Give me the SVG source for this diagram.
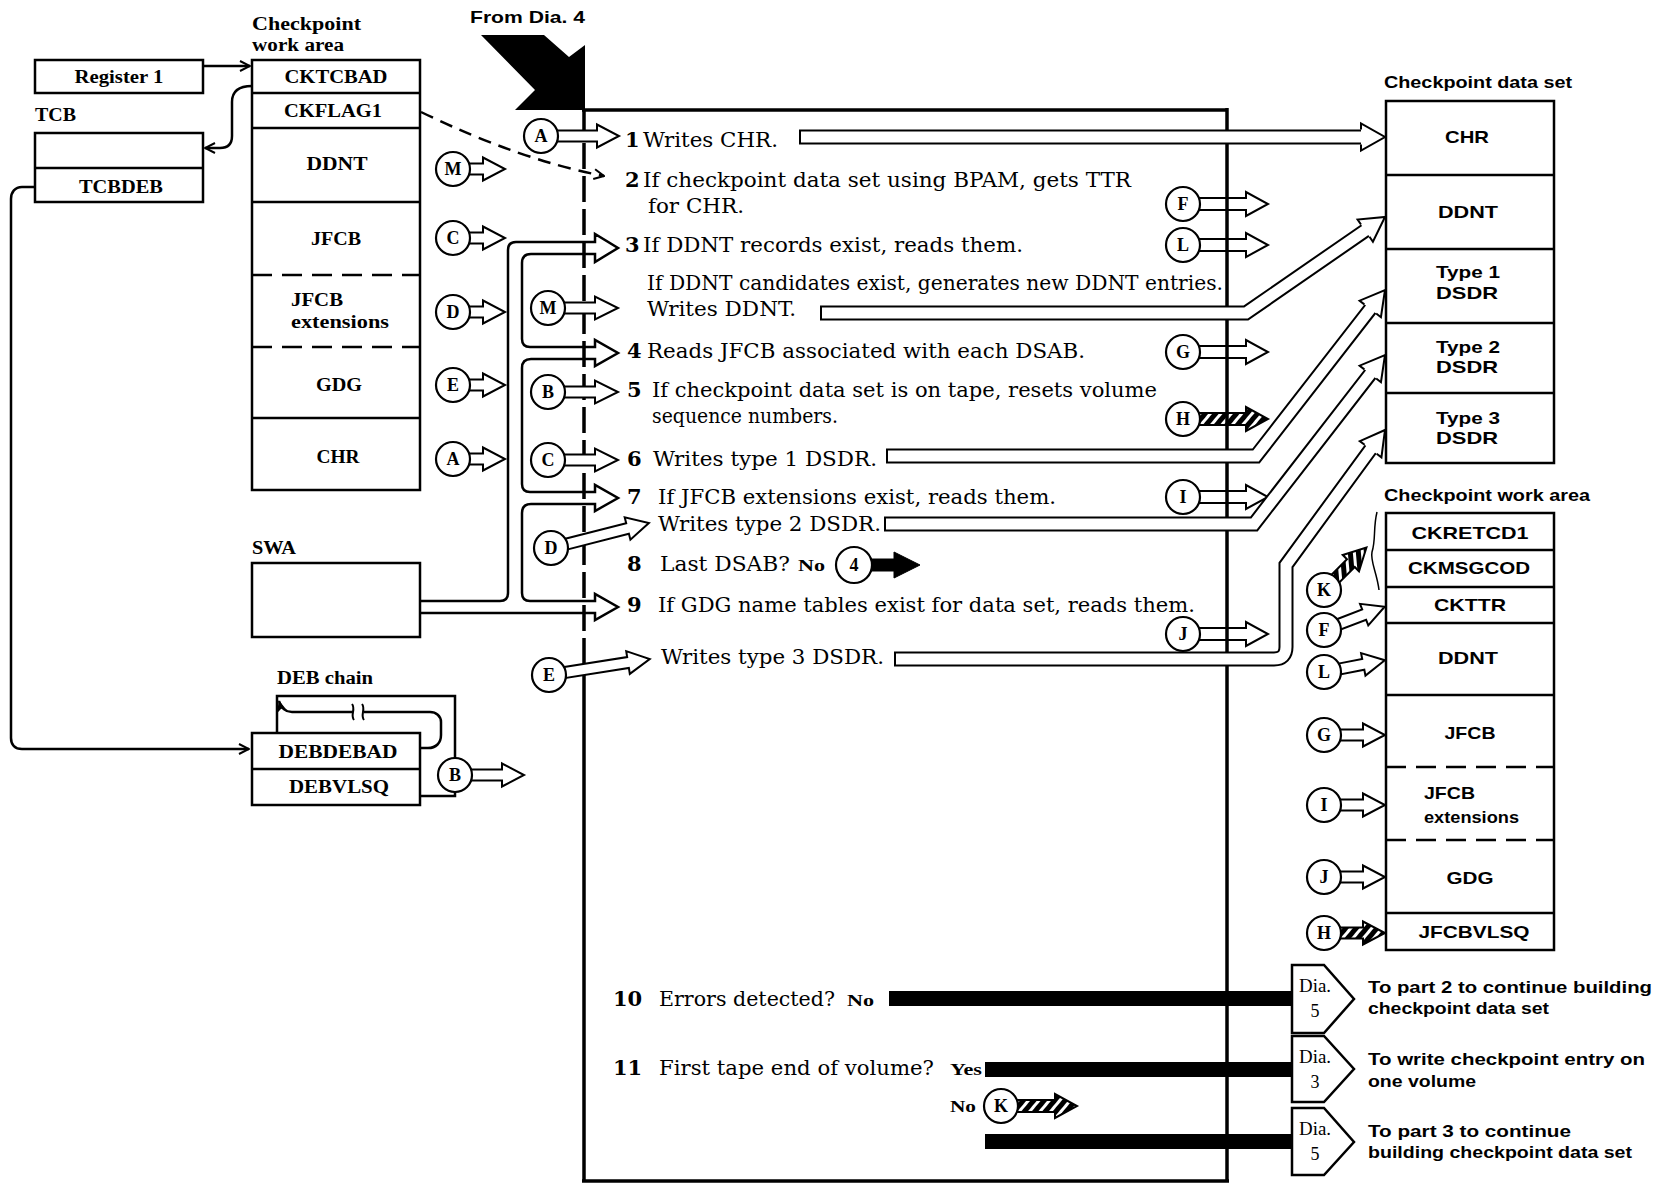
<svg xmlns="http://www.w3.org/2000/svg" width="1664" height="1187" viewBox="0 0 1664 1187">
<defs>
<style>
.bx{fill:#fff;stroke:#000;stroke-width:2.5}
.ln{fill:none;stroke:#000;stroke-width:2.5}
.dv{fill:none;stroke:#000;stroke-width:2.5;stroke-dasharray:20 10}
.dl{fill:none;stroke:#000;stroke-width:2.5;stroke-dasharray:13 8}
.mb{fill:none;stroke:#000;stroke-width:3.5}
.md{fill:none;stroke:#000;stroke-width:3.5;stroke-dasharray:26 7}
.ha{fill:#fff;stroke:#000;stroke-width:2;stroke-linejoin:miter}
.hh{fill:url(#hatch);stroke:#000;stroke-width:2;stroke-linejoin:miter}
.hb{fill:#000;stroke:#000;stroke-width:1}
.cn{fill:#fff;stroke:#000;stroke-width:2.2}
.cl{font-family:"Liberation Serif",serif;font-weight:bold;font-size:18px;text-anchor:middle}
.lb{font-family:"Liberation Serif",serif;font-weight:bold;font-size:18px}
.lc{font-family:"Liberation Serif",serif;font-weight:bold;font-size:18px;text-anchor:middle}
.mt{font-family:"DejaVu Serif",serif;font-size:21px}
.mn{font-family:"DejaVu Serif",serif;font-size:21px;font-weight:bold}
.sm{font-family:"Liberation Serif",serif;font-size:17px;font-weight:bold}
.rs{font-family:"Liberation Sans",sans-serif;font-weight:bold;font-size:17px}
.rc{font-family:"Liberation Sans",sans-serif;font-weight:bold;font-size:17px;text-anchor:middle}
.dt{font-family:"Liberation Serif",serif;font-size:18px}
.pb{fill:none;stroke:#000;stroke-width:15;stroke-linejoin:miter}
.pw{fill:none;stroke:#fff;stroke-width:11;stroke-linejoin:miter}
</style>
<pattern id="hatch" width="8" height="8" patternUnits="userSpaceOnUse" patternTransform="rotate(40)"><rect width="8" height="8" fill="#000"/><rect width="3" height="8" fill="#fff"/></pattern>
<polyline id="bh" points="-24,-7.5 -24,-13.5 0,0 -24,13.5 -24,7.5" fill="#fff" stroke="#000" stroke-width="2"/>
<marker id="ov" viewBox="0 0 12 12" markerWidth="12" markerHeight="12" refX="11" refY="6" orient="auto" markerUnits="userSpaceOnUse"><path d="M1,1 L11,6 L1,11" fill="none" stroke="#000" stroke-width="2"/></marker>
<marker id="fv" viewBox="0 0 12 12" markerWidth="12" markerHeight="12" refX="11" refY="6" orient="auto" markerUnits="userSpaceOnUse"><path d="M0,1 L12,6 L0,11 L3,6 z" fill="#000"/></marker>
</defs>
<rect width="1664" height="1187" fill="#fff"/>

<!-- left nodes -->
<g id="register1">
<rect class="bx" x="35" y="60" width="168" height="33"/>
<text class="lc" x="119" y="83" textLength="89" lengthAdjust="spacingAndGlyphs">Register 1</text>
</g>
<g id="tcb">
<text class="lb" x="35" y="121" textLength="41" lengthAdjust="spacingAndGlyphs">TCB</text>
<rect class="bx" x="35" y="133" width="168" height="69"/>
<line class="ln" x1="35" y1="168" x2="203" y2="168"/>
<text class="lc" x="121" y="193" textLength="84" lengthAdjust="spacingAndGlyphs">TCBDEB</text>
</g>
<g id="checkpoint-work-area-left">
<text class="lb" x="252" y="30" textLength="109" lengthAdjust="spacingAndGlyphs">Checkpoint</text>
<text class="lb" x="252" y="51" textLength="92" lengthAdjust="spacingAndGlyphs">work area</text>
<rect class="bx" x="252" y="60" width="168" height="430"/>
<line class="ln" x1="252" y1="93" x2="420" y2="93"/>
<line class="ln" x1="252" y1="128" x2="420" y2="128"/>
<line class="ln" x1="252" y1="202" x2="420" y2="202"/>
<line class="dv" x1="252" y1="275" x2="420" y2="275"/>
<line class="dv" x1="252" y1="347" x2="420" y2="347"/>
<line class="ln" x1="252" y1="418" x2="420" y2="418"/>
<text class="lc" x="336" y="83" textLength="103" lengthAdjust="spacingAndGlyphs">CKTCBAD</text>
<text class="lc" x="333" y="117" textLength="98" lengthAdjust="spacingAndGlyphs">CKFLAG1</text>
<text class="lc" x="337" y="170" textLength="61" lengthAdjust="spacingAndGlyphs">DDNT</text>
<text class="lc" x="336" y="245" textLength="50" lengthAdjust="spacingAndGlyphs">JFCB</text>
<text class="lb" x="291" y="306" textLength="52" lengthAdjust="spacingAndGlyphs">JFCB</text>
<text class="lb" x="291" y="328" textLength="98" lengthAdjust="spacingAndGlyphs">extensions</text>
<text class="lc" x="339" y="391" textLength="46" lengthAdjust="spacingAndGlyphs">GDG</text>
<text class="lc" x="338" y="463" textLength="43" lengthAdjust="spacingAndGlyphs">CHR</text>
</g>
<g id="swa">
<text class="lb" x="252" y="554" textLength="44" lengthAdjust="spacingAndGlyphs">SWA</text>
<rect class="bx" x="252" y="563" width="168" height="74"/>
</g>
<g id="deb-chain">
<text class="lb" x="277" y="684" textLength="96" lengthAdjust="spacingAndGlyphs">DEB chain</text>
<rect class="bx" x="252" y="733" width="168" height="72"/>
<line class="ln" x1="252" y1="769" x2="420" y2="769"/>
<text class="lc" x="338" y="758" textLength="119" lengthAdjust="spacingAndGlyphs">DEBDEBAD</text>
<text class="lc" x="339" y="793" textLength="100" lengthAdjust="spacingAndGlyphs">DEBVLSQ</text>
</g>

<!-- right nodes -->
<g id="checkpoint-data-set">
<text class="rs" x="1384" y="88" textLength="188" lengthAdjust="spacingAndGlyphs">Checkpoint data set</text>
<rect class="bx" x="1386" y="101" width="168" height="362"/>
<line class="ln" x1="1386" y1="175" x2="1554" y2="175"/>
<line class="ln" x1="1386" y1="249" x2="1554" y2="249"/>
<line class="ln" x1="1386" y1="323" x2="1554" y2="323"/>
<line class="ln" x1="1386" y1="393" x2="1554" y2="393"/>
<text class="rc" x="1467" y="143" textLength="44" lengthAdjust="spacingAndGlyphs">CHR</text>
<text class="rc" x="1468" y="218" textLength="60" lengthAdjust="spacingAndGlyphs">DDNT</text>
<text class="rc" x="1468" y="278" textLength="64" lengthAdjust="spacingAndGlyphs">Type 1</text>
<text class="rc" x="1467" y="299" textLength="62" lengthAdjust="spacingAndGlyphs">DSDR</text>
<text class="rc" x="1468" y="353" textLength="64" lengthAdjust="spacingAndGlyphs">Type 2</text>
<text class="rc" x="1467" y="373" textLength="62" lengthAdjust="spacingAndGlyphs">DSDR</text>
<text class="rc" x="1468" y="424" textLength="64" lengthAdjust="spacingAndGlyphs">Type 3</text>
<text class="rc" x="1467" y="444" textLength="62" lengthAdjust="spacingAndGlyphs">DSDR</text>
</g>
<g id="checkpoint-work-area-right">
<text class="rs" x="1384" y="501" textLength="206" lengthAdjust="spacingAndGlyphs">Checkpoint work area</text>
<rect class="bx" x="1386" y="513" width="168" height="437"/>
<line class="ln" x1="1386" y1="550" x2="1554" y2="550"/>
<line class="ln" x1="1386" y1="587" x2="1554" y2="587"/>
<line class="ln" x1="1386" y1="623" x2="1554" y2="623"/>
<line class="ln" x1="1386" y1="695" x2="1554" y2="695"/>
<line class="dv" x1="1386" y1="767" x2="1554" y2="767"/>
<line class="dv" x1="1386" y1="840" x2="1554" y2="840"/>
<line class="ln" x1="1386" y1="913" x2="1554" y2="913"/>
<text class="rc" x="1470" y="539" textLength="117" lengthAdjust="spacingAndGlyphs">CKRETCD1</text>
<text class="rc" x="1469" y="574" textLength="122" lengthAdjust="spacingAndGlyphs">CKMSGCOD</text>
<text class="rc" x="1470" y="611" textLength="72" lengthAdjust="spacingAndGlyphs">CKTTR</text>
<text class="rc" x="1468" y="664" textLength="60" lengthAdjust="spacingAndGlyphs">DDNT</text>
<text class="rc" x="1470" y="739" textLength="51" lengthAdjust="spacingAndGlyphs">JFCB</text>
<text class="rs" x="1424" y="799" textLength="51" lengthAdjust="spacingAndGlyphs">JFCB</text>
<text class="rs" x="1424" y="823" textLength="95" lengthAdjust="spacingAndGlyphs">extensions</text>
<text class="rc" x="1470" y="884" textLength="47" lengthAdjust="spacingAndGlyphs">GDG</text>
<text class="rc" x="1474" y="938" textLength="111" lengthAdjust="spacingAndGlyphs">JFCBVLSQ</text>
<path class="ln" style="stroke-width:1.5" d="M1377,512 C1373,528 1376,540 1372,552 C1370,561 1377,573 1379,590"/>
</g>

<!-- off-page connectors -->
<g id="dia-5a">
<polygon class="bx" points="1292,965 1324,965 1354,999 1324,1033 1292,1033"/>
<text class="dt" x="1299" y="992" textLength="32" lengthAdjust="spacingAndGlyphs">Dia.</text>
<text class="dt" x="1315" y="1017" text-anchor="middle">5</text>
<text class="rs" x="1368" y="993" textLength="284" lengthAdjust="spacingAndGlyphs">To part 2 to continue building</text>
<text class="rs" x="1368" y="1014" textLength="181" lengthAdjust="spacingAndGlyphs">checkpoint data set</text>
</g>
<g id="dia-3">
<polygon class="bx" points="1292,1036 1324,1036 1354,1069 1324,1102 1292,1102"/>
<text class="dt" x="1299" y="1063" textLength="32" lengthAdjust="spacingAndGlyphs">Dia.</text>
<text class="dt" x="1315" y="1088" text-anchor="middle">3</text>
<text class="rs" x="1368" y="1065" textLength="277" lengthAdjust="spacingAndGlyphs">To write checkpoint entry on</text>
<text class="rs" x="1368" y="1087" textLength="108" lengthAdjust="spacingAndGlyphs">one volume</text>
</g>
<g id="dia-5b">
<polygon class="bx" points="1292,1108 1324,1108 1354,1142 1324,1175 1292,1175"/>
<text class="dt" x="1299" y="1135" textLength="32" lengthAdjust="spacingAndGlyphs">Dia.</text>
<text class="dt" x="1315" y="1160" text-anchor="middle">5</text>
<text class="rs" x="1368" y="1137" textLength="203" lengthAdjust="spacingAndGlyphs">To part 3 to continue</text>
<text class="rs" x="1368" y="1158" textLength="264" lengthAdjust="spacingAndGlyphs">building checkpoint data set</text>
</g>

<!-- main process box -->
<g id="process">
<line class="md" x1="584" y1="110" x2="584" y2="655"/>
<line class="mb" x1="584" y1="655" x2="584" y2="1181"/>
<text class="rs" x="470" y="23" textLength="115" lengthAdjust="spacingAndGlyphs">From Dia. 4</text>
<text class="mn" x="625" y="147">1</text>
<text class="mt" x="643" y="147" textLength="135" lengthAdjust="spacingAndGlyphs">Writes CHR.</text>
<text class="mn" x="625" y="187">2</text>
<text class="mt" x="643" y="187" textLength="488" lengthAdjust="spacingAndGlyphs">If checkpoint data set using BPAM, gets TTR</text>
<text class="mt" x="648" y="213" textLength="96" lengthAdjust="spacingAndGlyphs">for CHR.</text>
<text class="mn" x="625" y="252">3</text>
<text class="mt" x="643" y="252" textLength="380" lengthAdjust="spacingAndGlyphs">If DDNT records exist, reads them.</text>
<text class="mt" x="647" y="290" textLength="576" lengthAdjust="spacingAndGlyphs">If DDNT candidates exist, generates new DDNT entries.</text>
<text class="mt" x="647" y="316" textLength="149" lengthAdjust="spacingAndGlyphs">Writes DDNT.</text>
<text class="mn" x="627" y="358">4</text>
<text class="mt" x="647" y="358" textLength="438" lengthAdjust="spacingAndGlyphs">Reads JFCB associated with each DSAB.</text>
<text class="mn" x="627" y="397">5</text>
<text class="mt" x="652" y="397" textLength="505" lengthAdjust="spacingAndGlyphs">If checkpoint data set is on tape, resets volume</text>
<text class="mt" x="652" y="423" textLength="186" lengthAdjust="spacingAndGlyphs">sequence numbers.</text>
<text class="mn" x="627" y="466">6</text>
<text class="mt" x="653" y="466" textLength="224" lengthAdjust="spacingAndGlyphs">Writes type 1 DSDR.</text>
<text class="mn" x="627" y="504">7</text>
<text class="mt" x="658" y="504" textLength="398" lengthAdjust="spacingAndGlyphs">If JFCB extensions exist, reads them.</text>
<text class="mt" x="658" y="531" textLength="223" lengthAdjust="spacingAndGlyphs">Writes type 2 DSDR.</text>
<text class="mn" x="627" y="571">8</text>
<text class="mt" x="660" y="571" textLength="130" lengthAdjust="spacingAndGlyphs">Last DSAB?</text>
<text class="sm" x="798" y="571" textLength="27" lengthAdjust="spacingAndGlyphs">No</text>
<text class="mn" x="627" y="612">9</text>
<text class="mt" x="658" y="612" textLength="537" lengthAdjust="spacingAndGlyphs">If GDG name tables exist for data set, reads them.</text>
<text class="mt" x="661" y="664" textLength="223" lengthAdjust="spacingAndGlyphs">Writes type 3 DSDR.</text>
<text class="mn" x="613" y="1006">10</text>
<text class="mt" x="659" y="1006" textLength="176" lengthAdjust="spacingAndGlyphs">Errors detected?</text>
<text class="sm" x="847" y="1006" textLength="27" lengthAdjust="spacingAndGlyphs">No</text>
<text class="mn" x="613" y="1075">11</text>
<text class="mt" x="659" y="1075" textLength="275" lengthAdjust="spacingAndGlyphs">First tape end of volume?</text>
<text class="sm" x="950" y="1075" textLength="32" lengthAdjust="spacingAndGlyphs">Yes</text>
<text class="sm" x="950" y="1112" textLength="26" lengthAdjust="spacingAndGlyphs">No</text>
</g>

<!-- connectors -->
<g id="connectors">
<path class="ln" d="M203,66 L250,66" marker-end="url(#ov)"/>
<path class="ln" d="M252,86 C238,86 232,92 232,102 L232,136 C232,144 228,148 220,148 L205,148" marker-end="url(#ov)"/>
<path class="ln" d="M35,187 L22,187 C15,187 11,192 11,199 L11,738 C11,745 15,749 22,749 L249,749" marker-end="url(#ov)"/>
<path class="dl" d="M421,112 Q520,160 604,176" marker-end="url(#ov)"/>
<path class="ln" d="M277,733 L277,696 L455,696 L455,758"/>
<path class="ln" d="M455,792 L455,796 L420,796"/>
<path class="ln" d="M420,748 L428,748 C436,748 441,743 441,735 L441,722 C441,716 436,712 430,712 L292,712 C285,712 281,708 279,701" marker-end="url(#fv)"/>
<rect x="353" y="705" width="11" height="14" fill="#fff"/>
<path class="ln" style="stroke-width:2" d="M352,704 C356,709 350,715 354,720 M362,704 C366,709 360,715 364,720"/>

<g id="c-left-M" transform="translate(453,169)"><polygon class="ha" points="13,-5.5 30,-5.5 30,-11.5 52,0 30,11.5 30,5.5 13,5.5"/><circle class="cn" r="17"/><text class="cl" y="6">M</text></g>
<g id="c-left-C" transform="translate(453,238)"><polygon class="ha" points="13,-5.5 30,-5.5 30,-11.5 52,0 30,11.5 30,5.5 13,5.5"/><circle class="cn" r="17"/><text class="cl" y="6">C</text></g>
<g id="c-left-D" transform="translate(453,312)"><polygon class="ha" points="13,-5.5 30,-5.5 30,-11.5 52,0 30,11.5 30,5.5 13,5.5"/><circle class="cn" r="17"/><text class="cl" y="6">D</text></g>
<g id="c-left-E" transform="translate(453,385)"><polygon class="ha" points="13,-5.5 30,-5.5 30,-11.5 52,0 30,11.5 30,5.5 13,5.5"/><circle class="cn" r="17"/><text class="cl" y="6">E</text></g>
<g id="c-left-A" transform="translate(453,459)"><polygon class="ha" points="13,-5.5 30,-5.5 30,-11.5 52,0 30,11.5 30,5.5 13,5.5"/><circle class="cn" r="17"/><text class="cl" y="6">A</text></g>
<g id="c-deb-B" transform="translate(455,775)"><polygon class="ha" points="13,-5.5 47,-5.5 47,-11.5 69,0 47,11.5 47,5.5 13,5.5"/><circle class="cn" r="17"/><text class="cl" y="6">B</text></g>

<g id="c-main-A" transform="translate(541,136)"><polygon class="ha" points="13,-5.5 56,-5.5 56,-11.5 78,0 56,11.5 56,5.5 13,5.5"/><circle class="cn" r="17"/><text class="cl" y="6">A</text></g>
<g id="c-main-M" transform="translate(548,308)"><polygon class="ha" points="13,-5.5 47,-5.5 47,-11.5 70,0 47,11.5 47,5.5 13,5.5"/><circle class="cn" r="17"/><text class="cl" y="6">M</text></g>
<g id="c-main-B" transform="translate(548,392)"><polygon class="ha" points="13,-5.5 47,-5.5 47,-11.5 70,0 47,11.5 47,5.5 13,5.5"/><circle class="cn" r="17"/><text class="cl" y="6">B</text></g>
<g id="c-main-C" transform="translate(548,460)"><polygon class="ha" points="13,-5.5 47,-5.5 47,-11.5 70,0 47,11.5 47,5.5 13,5.5"/><circle class="cn" r="17"/><text class="cl" y="6">C</text></g>
<g id="c-main-D" transform="translate(551,548)"><polygon class="ha" transform="rotate(-14.3)" points="13,-5.5 79,-5.5 79,-11.5 101,0 79,11.5 79,5.5 13,5.5"/><circle class="cn" r="17"/><text class="cl" y="6">D</text></g>
<g id="c-main-E" transform="translate(549,675)"><polygon class="ha" transform="rotate(-9)" points="13,-5.5 80,-5.5 80,-11.5 102,0 80,11.5 80,5.5 13,5.5"/><circle class="cn" r="17"/><text class="cl" y="6">E</text></g>

<g id="c-main-F" transform="translate(1183,204)"><polygon class="ha" points="13,-6 63,-6 63,-12 85,0 63,12 63,6 13,6"/><circle class="cn" r="17"/><text class="cl" y="6">F</text></g>
<g id="c-main-L" transform="translate(1183,245)"><polygon class="ha" points="13,-6 63,-6 63,-12 85,0 63,12 63,6 13,6"/><circle class="cn" r="17"/><text class="cl" y="6">L</text></g>
<g id="c-main-G" transform="translate(1183,352)"><polygon class="ha" points="13,-6 63,-6 63,-12 85,0 63,12 63,6 13,6"/><circle class="cn" r="17"/><text class="cl" y="6">G</text></g>
<g id="c-main-H" transform="translate(1183,419)"><polygon class="hh" points="13,-6 63,-6 63,-12 85,0 63,12 63,6 13,6"/><circle class="cn" r="17"/><text class="cl" y="6">H</text></g>
<g id="c-main-I" transform="translate(1183,497)"><polygon class="ha" points="13,-6 63,-6 63,-12 85,0 63,12 63,6 13,6"/><circle class="cn" r="17"/><text class="cl" y="6">I</text></g>
<g id="c-main-J" transform="translate(1183,634)"><polygon class="ha" points="13,-6 63,-6 63,-12 85,0 63,12 63,6 13,6"/><circle class="cn" r="17"/><text class="cl" y="6">J</text></g>

<g id="c-r-K" transform="translate(1324,590)"><polygon class="hh" transform="rotate(-45)" points="13,-5.5 38,-5.5 38,-11.5 60,0 38,11.5 38,5.5 13,5.5"/><circle class="cn" r="17"/><text class="cl" y="6">K</text></g>
<g id="c-r-F" transform="translate(1324,630)"><polygon class="ha" transform="rotate(-21)" points="13,-5.5 43,-5.5 43,-11.5 65,0 43,11.5 43,5.5 13,5.5"/><circle class="cn" r="17"/><text class="cl" y="6">F</text></g>
<g id="c-r-L" transform="translate(1324,672)"><polygon class="ha" transform="rotate(-11)" points="13,-5.5 40,-5.5 40,-11.5 62,0 40,11.5 40,5.5 13,5.5"/><circle class="cn" r="17"/><text class="cl" y="6">L</text></g>
<g id="c-r-G" transform="translate(1324,735)"><polygon class="ha" points="13,-5.5 39,-5.5 39,-11.5 61,0 39,11.5 39,5.5 13,5.5"/><circle class="cn" r="17"/><text class="cl" y="6">G</text></g>
<g id="c-r-I" transform="translate(1324,805)"><polygon class="ha" points="13,-5.5 39,-5.5 39,-11.5 61,0 39,11.5 39,5.5 13,5.5"/><circle class="cn" r="17"/><text class="cl" y="6">I</text></g>
<g id="c-r-J" transform="translate(1324,877)"><polygon class="ha" points="13,-5.5 39,-5.5 39,-11.5 61,0 39,11.5 39,5.5 13,5.5"/><circle class="cn" r="17"/><text class="cl" y="6">J</text></g>
<g id="c-r-H" transform="translate(1324,933)"><polygon class="hh" points="13,-5.5 39,-5.5 39,-11.5 61,0 39,11.5 39,5.5 13,5.5"/><circle class="cn" r="17"/><text class="cl" y="6">H</text></g>

<g id="c-bottom-K" transform="translate(1001,1106)"><polygon class="hh" points="13,-6 54,-6 54,-12 76,0 54,12 54,6 13,6"/><circle class="cn" r="17"/><text class="cl" y="6">K</text></g>
<g id="c-4" transform="translate(854,565)"><polygon class="hb" points="14,-6 40,-6 40,-13 66,0 40,13 40,6 14,6"/><circle class="cn" r="18"/><text class="cl" y="6">4</text></g>

<line class="mb" x1="582" y1="110" x2="1227" y2="110"/>
<line class="mb" x1="1227" y1="108" x2="1227" y2="1182"/>
<line class="mb" x1="582" y1="1181" x2="1229" y2="1181"/>
<polygon fill="#000" points="481,35 544,35 569,57 585,45 585,110 515,110 535,90"/>

<path class="ln" d="M420,601 L500,601 Q508,601 508,593 L508,250 Q508,242 516,242 L595,242 L595,234 L618,248 L595,262 L595,254 L531,254 Q522,254 522,263 L522,339 Q522,347 530,347 L595,347 L595,340 L618,353 L595,366 L595,359 L531,359 Q522,359 522,368 L522,484 Q522,492 530,492 L595,492 L595,485 L618,498 L595,511 L595,504 L531,504 Q522,504 522,513 L522,593 Q522,601 530,601 L595,601 L595,594 L618,607 L595,620 L595,613 L420,613"/>

<path class="pb" d="M799,137 L1361.5,137"/>
<path class="pw" d="M801,137 L1362,137"/>
<use href="#bh" transform="translate(1385,137)"/>

<path class="pb" d="M820,313 L1246,313 L1365.6,230.3"/>
<path class="pw" d="M822,313 L1246,313 L1366,230"/>
<use href="#bh" transform="translate(1385,217) rotate(-34.6)"/>

<path class="pb" d="M886,456 L1256,456 L1370.6,308.6"/>
<path class="pw" d="M888,456 L1256,456 L1370.9,308.2"/>
<use href="#bh" transform="translate(1385,290) rotate(-52.15)"/>

<path class="pb" d="M884,524 L1254,524 L1370.6,373.6"/>
<path class="pw" d="M886,524 L1254,524 L1370.9,373.2"/>
<use href="#bh" transform="translate(1385,355) rotate(-52.2)"/>

<path class="pb" d="M894,659 L1274,659 Q1286,659 1286,647 L1286,565 L1370.9,448.8"/>
<path class="pw" d="M896,659 L1274,659 Q1286,659 1286,647 L1286,565 L1371.2,448.4"/>
<use href="#bh" transform="translate(1385,430) rotate(-53.2)"/>

<rect x="889" y="991" width="404" height="15" fill="#000"/>
<rect x="985" y="1062" width="308" height="15" fill="#000"/>
<rect x="985" y="1134" width="308" height="15" fill="#000"/>
</g>
</svg>
